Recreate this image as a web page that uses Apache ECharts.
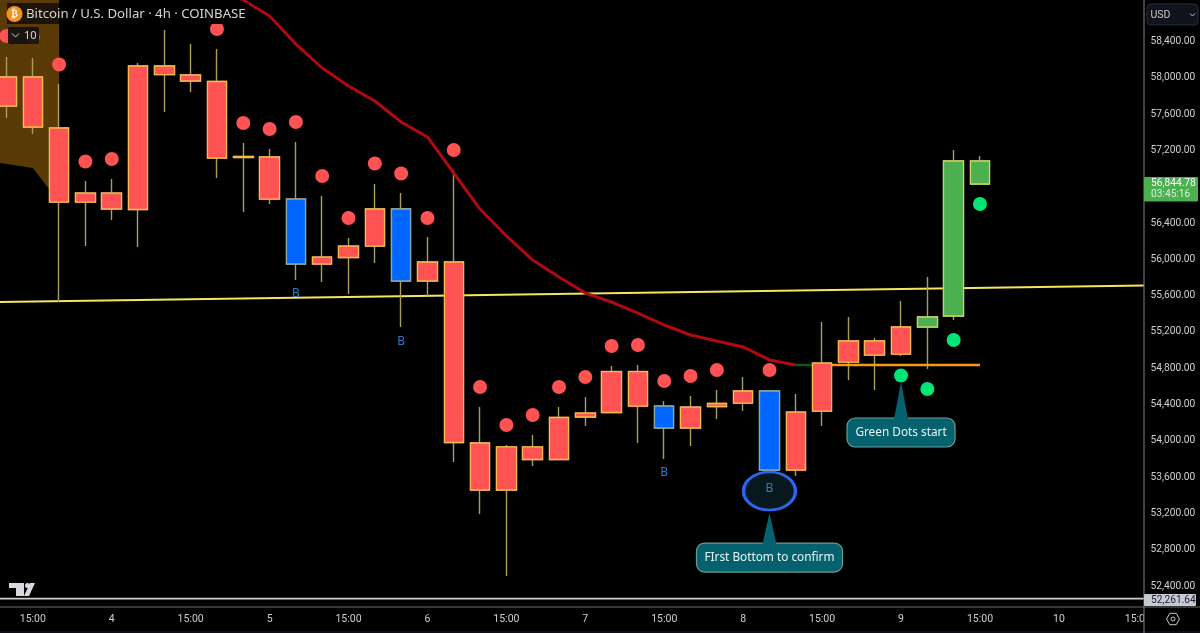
<!DOCTYPE html>
<html><head><meta charset="utf-8">
<style>html,body{margin:0;padding:0;background:#000}#c{width:1200px;height:633px}</style>
<script src="https://cdn.jsdelivr.net/npm/echarts@6/dist/echarts.min.js"></script>
</head><body><div id="c"></div>
<script>
const opens  =[58009,58009,57447,56730,56730,58130,58130,58031,57959,57133,57127,56664,56025,56146,56554,56554,55970,55970,53976,53932,53932,54257,54306,54763,54763,54383,54372,54411,54549,54549,54317,54857,55100,55100,55254,55254,55375,56830];
const closes =[57689,57458,56631,56631,56554,56549,58036,57965,57116,57122,56664,55948,55948,56020,56146,55761,55761,53981,53458,53458,53794,53794,54262,54312,54383,54141,54141,54378,54416,53678,53678,54328,54868,54945,54956,55364,57083,57083];
const lows   =[57557,57381,55529,56146,56433,56135,57623,57843,56896,56521,56609,55772,55750,55617,55959,55254,55595,53766,53193,52510,53722,53788,54163,54306,53976,53799,53943,54240,54328,53623,53612,54163,54670,54559,54934,54791,55331,56819];
const highs  =[58229,58218,57932,56863,56885,58163,58527,58372,58317,57281,57215,57293,56697,56235,56830,56730,56246,56984,54372,53954,54064,54372,54482,54824,54835,54438,54493,54559,54703,54559,54515,55309,55364,55133,55540,55805,57204,57138];
const blueBars=[11,15,25,29];
const redDotIdx=[0,1,2,3,4,8,9,10,11,12,13,14,15,16,17,18,19,20,21,22,23,24,25,26,27,29];
const redDotVal=[58461,58450,58147,57078,57105,58538,57502,57436,57513,56918,56455,57056,56945,56455,57204,54593,54174,54284,54593,54703,55044,55055,54659,54714,54780,54780];
const greenDotIdx=[34,35,36,37];
const greenDotVal=[54719,54570,55110,56609];
const maIdx=[8,9,10,11,12,13,14,15,16,17,18,19,20,21,22,23,24,25,26,27,28,29,30];
const maVal=[59011,58857,58680,58372,58108,57910,57744,57513,57348,56951,56554,56257,55992,55805,55628,55529,55408,55276,55166,55100,55034,54891,54835];
const maGreenIdx=[30,31];
const maGreenVal=[54835,54835];
const levelIdx=[31,37];
const levelVal=[54835,54835];
const trendIdx=[-0.247,43.235];
const trendVal=[55529,55711];
const zoneIdx=[-0.247,1,2];
const zoneVal=[57061,57006,56631];
const buyIdx=[11,15,25,29];
const buyVal=[55617,55090,53645,53469];
const buyLabel='B';
const circledIdx=[29];
const circledVal=[53446];
const calloutIdx=[29,34];
const calloutVal=[53204,54648];
const calloutText=['FIrst Bottom to confirm','Green Dots start'];
const tickIdx=[1,4,7,10,13,16,19,22,25,28,31,34,37,40,43];
const tickLabels=['15:00','4','15:00','5','15:00','6','15:00','7','15:00','8','15:00','9','15:00','10','15:00'];
const priceTicks=[52400,52800,53200,53600,54000,54400,54800,55200,55600,56000,56400,56800,57200,57600,58000,58400];
const lastPrice=56844.78, lastCountdown='03:45:16', lowPrice=52261.64;
const title='Bitcoin / U.S. Dollar · 4h · COINBASE';

const FONT='"Noto Sans", sans-serif';
const AXF='Roboto, sans-serif';
const TXT='#cfcfcf';
const X0=-0.247,X1=43.235;
const zip=(a,b)=>a.map((v,i)=>[v,b[i]]);
const wickData=opens.map((o,i)=>[i,o,closes[i],lows[i],highs[i]]);
const bodyData=opens.map((o,i)=>{
  const c=closes[i], v=[i,o,c,Math.min(o,c),Math.max(o,c)];
  return blueBars.includes(i)?{value:v,itemStyle:{color:'#0066ff',color0:'#0066ff',borderColor:'#8fa6a8',borderColor0:'#8fa6a8'}}:{value:v};
});
const calloutBox=[{w:146,h:29,d:30},{w:108,h:29,d:36}];
const tickMap={};tickIdx.forEach((t,i)=>tickMap[t]=tickLabels[i]);

const chart=echarts.init(document.getElementById('c'),null,{renderer:'canvas'});
chart.setOption({
  animation:false,backgroundColor:'#000',
  grid:{left:0,top:0,width:1144,height:607},
  xAxis:{type:'value',min:X0,max:X1,z:1,splitLine:{show:false},axisLine:{show:false},axisTick:{show:false},
    axisLabel:{customValues:tickIdx,formatter:v=>tickMap[Math.round(v)],color:TXT,fontFamily:AXF,fontSize:10.5,margin:7}},
  yAxis:{type:'value',position:'right',min:52168.6,max:58857.3,z:10,splitLine:{show:false},axisLine:{show:false},axisTick:{show:false},
    axisLabel:{customValues:priceTicks,formatter:v=>v.toLocaleString('en-US',{minimumFractionDigits:2}),color:TXT,fontFamily:AXF,fontSize:10.2,margin:6.5,align:'left'}},
  series:[
    {type:'line',z:1,symbol:'none',data:zip(zoneIdx,zoneVal),lineStyle:{width:0},areaStyle:{origin:'end',color:'#5a3a07',opacity:1}},
    {type:'line',z:2,symbol:'none',data:zip(trendIdx,trendVal),lineStyle:{color:'#f5e662',width:2}},
    {type:'line',z:2,symbol:'none',data:zip([X0,X1],[lowPrice,lowPrice]),lineStyle:{color:'#cfcfcf',width:1.8}},
    {type:'candlestick',z:3,barWidth:20,data:wickData,itemStyle:{color:'#a89f58',color0:'#a89f58',borderColor:'#a89f58',borderColor0:'#a89f58',borderColorDoji:'#a89f58',borderWidth:1.4}},
    {type:'line',z:4,symbol:'none',data:zip(maIdx,maVal),lineStyle:{color:'#b00a10',width:3}},
    {type:'line',z:4,symbol:'none',data:zip(maGreenIdx,maGreenVal),lineStyle:{color:'#0c5a14',width:2.6}},
    {type:'line',z:4,symbol:'none',data:zip(levelIdx,levelVal),lineStyle:{color:'#f59b1c',width:2.6}},
    {type:'candlestick',z:5,barWidth:20,data:bodyData,itemStyle:{color:'#4caf50',color0:'#ff5252',borderColor:'#c9d45f',borderColor0:'#f7b84e',borderColorDoji:'#f7d84e',borderWidth:1.3}},
    {type:'scatter',z:6,symbol:'circle',symbolSize:14,data:zip(redDotIdx,redDotVal),itemStyle:{color:'#ff5252',opacity:1}},
    {type:'scatter',z:6,symbol:'circle',symbolSize:14,data:zip(greenDotIdx,greenDotVal),itemStyle:{color:'#00e676',opacity:1}},
    {type:'scatter',z:6,symbol:'circle',symbolSize:[52,38],data:zip(circledIdx,circledVal),itemStyle:{color:'#07181f',borderColor:'#2b66ee',borderWidth:3,opacity:1}},
    {type:'scatter',z:7,symbol:'circle',symbolSize:1,data:zip(buyIdx,buyVal),itemStyle:{color:'rgba(0,0,0,0)'},
      label:{show:true,position:'inside',formatter:()=>buyLabel,color:'#3a96ee',fontFamily:FONT,fontSize:12}},
    {type:'custom',z:8,clip:false,data:zip(calloutIdx,calloutVal),encode:{x:0,y:1},
      renderItem(params,api){
        const p=api.coord([api.value(0),api.value(1)]), b=calloutBox[params.dataIndex];
        const top=p[1]+b.d, fill='#06616f';
        return {type:'group',children:[
          {type:'rect',shape:{x:p[0]-b.w/2,y:top,width:b.w,height:b.h,r:8},style:{fill,stroke:'#6a9c96',lineWidth:1.2}},
          {type:'polygon',shape:{points:[[p[0],p[1]],[p[0]+7,top+1],[p[0]-7,top+1]]},style:{fill}},
          {type:'text',style:{x:p[0],y:top+b.h/2,text:calloutText[params.dataIndex],fill:'#e6f5f3',font:'11.8px '+FONT,align:'center',verticalAlign:'middle'}}
        ]};
      }}
  ],
  graphic:{elements:[
    {type:'rect',z:5,shape:{x:1144,y:0,width:56,height:633},style:{fill:'#000'}},
    {type:'rect',z:5,shape:{x:0,y:631,width:1200,height:2},style:{fill:'#0d0f14'}},
    {type:'line',z:6,shape:{x1:1144,y1:0,x2:1144,y2:633},style:{stroke:'#6f6f6f',lineWidth:1.2}},
    {type:'line',z:6,shape:{x1:0,y1:607,x2:1200,y2:607},style:{stroke:'#6f6f6f',lineWidth:1.2}},
    {type:'rect',z:20,shape:{x:7,y:3,width:52,height:21},style:{fill:'rgba(15,12,8,0.82)'}},
    {type:'rect',z:20,shape:{x:59,y:3,width:190,height:21},style:{fill:'#000'}},
    {type:'circle',z:21,shape:{cx:14.5,cy:14,r:8},style:{fill:'#f7931a'}},
    {type:'text',z:22,style:{x:14.5,y:14,text:'₿',fill:'#fff',font:'bold 10px "DejaVu Sans"',align:'center',verticalAlign:'middle'}},
    {type:'text',z:22,style:{x:26,y:14,text:title,fill:'#d4d4d4',font:'13.2px '+FONT,verticalAlign:'middle'}},
    {type:'rect',z:20,shape:{x:8,y:27,width:31,height:17,r:2},style:{fill:'rgba(20,18,16,0.94)'}},
    {type:'polyline',z:22,shape:{points:[[12,33.5],[15.5,37],[19,33.5]]},style:{stroke:'#d8d8d8',lineWidth:1,fill:'none'}},
    {type:'text',z:22,style:{x:24,y:35.5,text:'10',fill:'#d8d8d8',font:'11px '+FONT,verticalAlign:'middle'}},
    {type:'polygon',z:21,shape:{points:[[9,583],[24,583],[24,596],[16,596],[16,588],[9,588]]},style:{fill:'#d8dae0'}},
    {type:'circle',z:21,shape:{cx:27.5,cy:585.5,r:2.5},style:{fill:'#d8dae0'}},
    {type:'polygon',z:21,shape:{points:[[30,583],[35,583],[29,596],[24,596]]},style:{fill:'#d8dae0'}},
    {type:'rect',z:20,shape:{x:1147,y:4,width:51,height:21,r:4},style:{fill:'#10131c',stroke:'#2a2e39',lineWidth:1}},
    {type:'text',z:22,style:{x:1150.5,y:15,text:'USD',fill:'#c8c8c8',font:'10.5px '+AXF,verticalAlign:'middle'}},
    {type:'polyline',z:22,shape:{points:[[1190,13.5],[1192.5,16],[1195,13.5]]},style:{stroke:'#c8c8c8',lineWidth:1,fill:'none'}},
    {type:'rect',z:20,shape:{x:1144,y:177,width:54,height:24.5,r:1},style:{fill:'#4caf50'}},
    {type:'text',z:22,style:{x:1151,y:183,text:lastPrice.toLocaleString('en-US'),fill:'#fff',font:'10.2px '+AXF,verticalAlign:'middle'}},
    {type:'text',z:22,style:{x:1151,y:194.5,text:lastCountdown,fill:'#d5efd6',font:'10.2px '+AXF,verticalAlign:'middle'}},
    {type:'rect',z:20,shape:{x:1144,y:594,width:52,height:12,r:1},style:{fill:'#c5cad6'}},
    {type:'text',z:22,style:{x:1151,y:600,text:lowPrice.toLocaleString('en-US'),fill:'#20242c',font:'10.2px '+AXF,verticalAlign:'middle'}},
    {type:'polygon',z:22,shape:{points:[[1166.5,619],[1169.8,613.3],[1176.2,613.3],[1179.5,619],[1176.2,624.7],[1169.8,624.7]]},style:{stroke:'#c8c8c8',lineWidth:1,fill:'none'}},
    {type:'circle',z:22,shape:{cx:1173,cy:619,r:2},style:{stroke:'#c8c8c8',lineWidth:1,fill:'none'}}
  ]}
});
</script></body></html>
